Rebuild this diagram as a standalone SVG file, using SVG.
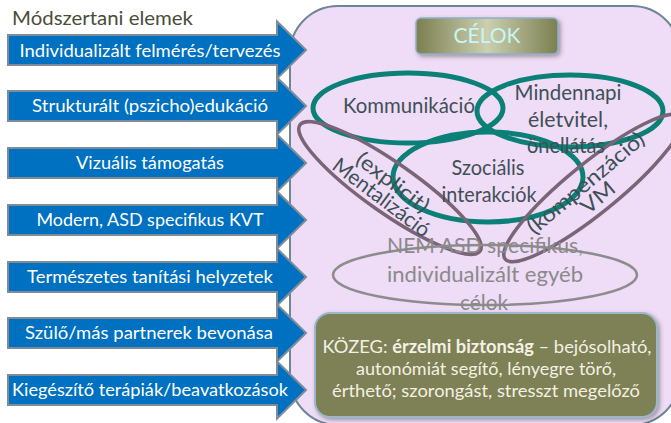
<svg xmlns="http://www.w3.org/2000/svg" width="671" height="423" viewBox="0 0 671 423">
<defs>
<linearGradient id="celokGrad" x1="0" y1="0" x2="1" y2="0">
<stop offset="0" stop-color="#7b7f50"/>
<stop offset="0.5" stop-color="#cccfb0"/>
<stop offset="1" stop-color="#7b7f50"/>
</linearGradient>
<filter id="shadow" x="-10%" y="-10%" width="125%" height="130%">
<feDropShadow dx="2" dy="2" stdDeviation="2" flood-color="#3a3a3a" flood-opacity="0.45"/>
</filter>
<style>
.arrow{fill:#0070c0;stroke:#7e8c99;stroke-width:2;stroke-linejoin:miter}
.atext{font-family:Lato,"Open Sans","Noto Sans",sans-serif;font-size:17.5px;fill:#ffffff;text-anchor:middle}
.lbl{font-family:Lato,"Open Sans","Noto Sans",sans-serif;font-size:21px;fill:#3e5056;text-anchor:middle}
.gray{font-family:Lato,"Open Sans","Noto Sans",sans-serif;font-size:22px;fill:#8a8a8a;text-anchor:middle}
.teal{fill:none;stroke:#0a8077;stroke-width:5}
.purp{fill:none;stroke:#7a6478;stroke-width:3.5}
.kz{font-family:Lato,"Open Sans","Noto Sans",sans-serif;font-size:18px;fill:#f3f1e4;text-anchor:middle}
</style>
</defs>
<rect width="671" height="423" fill="#ffffff"/>

<g id="panel">
<rect x="290" y="6" width="390" height="419" rx="48" ry="48" fill="#efdcf6" stroke="#6d8597" stroke-width="2"/>
</g>

<g id="title">
<text x="12" y="25" font-family="Lato,'Open Sans',sans-serif" font-size="19.5" fill="#4a4d3a" textLength="181" lengthAdjust="spacingAndGlyphs">Módszertani elemek</text>
</g>

<g id="celok">
<rect x="416" y="18" width="142" height="36" rx="5" fill="url(#celokGrad)" stroke="#8fb0c8" stroke-width="1.5" filter="url(#shadow)"/>
<text x="487" y="43" text-anchor="middle" font-family="Lato,'Open Sans',sans-serif" font-size="21" fill="#c8f6f2">CÉLOK</text>
</g>

<g id="goal-ellipses">
<ellipse class="teal" cx="408" cy="108" rx="95" ry="35"/>
<ellipse class="teal" cx="570" cy="111" rx="93" ry="36"/>
<ellipse class="teal" cx="488" cy="177" rx="95" ry="45"/>
<ellipse class="purp" cx="0" cy="0" rx="110" ry="25" transform="translate(390,188) rotate(35)"/>
<ellipse class="purp" cx="0" cy="0" rx="113" ry="25" transform="translate(593,188) rotate(-39)"/>
<ellipse cx="485" cy="275" rx="152" ry="30" fill="none" stroke="#8c8c8c" stroke-width="2.5"/>
</g>

<g id="kommunikacio">
<text class="lbl" x="409" y="113" textLength="132" lengthAdjust="spacingAndGlyphs">Kommunikáció</text>
</g>
<g id="mindennapi">
<text class="lbl" x="568" y="100" textLength="107" lengthAdjust="spacingAndGlyphs">Mindennapi</text>
<text class="lbl" x="568" y="127" textLength="80" lengthAdjust="spacingAndGlyphs">életvitel,</text>
<text class="lbl" x="566" y="153" textLength="78" lengthAdjust="spacingAndGlyphs">önellátás</text>
</g>
<g id="szocialis">
<text class="lbl" x="488" y="175" textLength="73" lengthAdjust="spacingAndGlyphs">Szociális</text>
<text class="lbl" x="489" y="202" textLength="95" lengthAdjust="spacingAndGlyphs">interakciók</text>
</g>
<g id="mentalizacio" transform="translate(387,190) rotate(37)">
<text class="lbl" x="0" y="-2.5" textLength="86" lengthAdjust="spacingAndGlyphs">(explicit)</text>
<text class="lbl" x="0" y="16.5" textLength="116" lengthAdjust="spacingAndGlyphs">Mentalizáció</text>
</g>
<g id="vm" transform="translate(592,190.5) rotate(-40)">
<text class="lbl" x="0" y="-2.5" textLength="146" lengthAdjust="spacingAndGlyphs">(kompenzáció)</text>
<text class="lbl" x="0" y="16.5" textLength="38" lengthAdjust="spacingAndGlyphs">VM</text>
</g>
<g id="nem-asd">
<text class="gray" x="485" y="253" textLength="196" lengthAdjust="spacingAndGlyphs">NEM ASD specifikus,</text>
<text class="gray" x="485" y="282" textLength="196" lengthAdjust="spacingAndGlyphs">individualizált egyéb</text>
<text class="gray" x="484" y="310" textLength="48" lengthAdjust="spacingAndGlyphs">célok</text>
</g>

<g id="kozeg">
<rect x="315" y="313" width="342" height="104" rx="15" ry="15" fill="#7e8055" stroke="#9ab8cc" stroke-width="2" filter="url(#shadow)"/>
<text class="kz" x="487" y="353" textLength="329" lengthAdjust="spacingAndGlyphs">KÖZEG: <tspan font-weight="bold">érzelmi biztonság</tspan> – bejósolható,</text>
<text class="kz" x="486" y="375">autonómiát segítő, lényegre törő,</text>
<text class="kz" x="486" y="397" textLength="308" lengthAdjust="spacingAndGlyphs">érthető; szorongást, stresszt megelőző</text>
</g>

<g id="arrow-1">
<path class="arrow" d="M8,35 H277 V21.5 L306,50 L277,78.5 V65 H8 Z"/>
<text class="atext" x="150" y="57" textLength="261" lengthAdjust="spacingAndGlyphs">Individualizált felmérés/tervezés</text>
</g>
<g id="arrow-2">
<path class="arrow" d="M8,91 H277 V77.5 L306,106 L277,134.5 V121 H8 Z"/>
<text class="atext" x="150" y="112" textLength="236" lengthAdjust="spacingAndGlyphs">Strukturált (pszicho)edukáció</text>
</g>
<g id="arrow-3">
<path class="arrow" d="M8,148 H277 V134.5 L306,163 L277,191.5 V178 H8 Z"/>
<text class="atext" x="150" y="169" textLength="148" lengthAdjust="spacingAndGlyphs">Vizuális támogatás</text>
</g>
<g id="arrow-4">
<path class="arrow" d="M8,205 H277 V191.5 L306,220 L277,248.5 V235 H8 Z"/>
<text class="atext" x="150" y="226" textLength="227" lengthAdjust="spacingAndGlyphs">Modern, ASD specifikus KVT</text>
</g>
<g id="arrow-5">
<path class="arrow" d="M8,262 H277 V248.5 L306,277 L277,305.5 V292 H8 Z"/>
<text class="atext" x="150" y="283" textLength="246" lengthAdjust="spacingAndGlyphs">Természetes tanítási helyzetek</text>
</g>
<g id="arrow-6">
<path class="arrow" d="M8,318 H277 V304.5 L306,333 L277,361.5 V348 H8 Z"/>
<text class="atext" x="149" y="339" textLength="248" lengthAdjust="spacingAndGlyphs">Szülő/más partnerek bevonása</text>
</g>
<g id="arrow-7">
<path class="arrow" d="M8,375 H277 V361.5 L306,390 L277,418.5 V405 H8 Z"/>
<text class="atext" x="150" y="396" textLength="276" lengthAdjust="spacingAndGlyphs">Kiegészítő terápiák/beavatkozások</text>
</g>

<g id="connectors"></g>
</svg>
